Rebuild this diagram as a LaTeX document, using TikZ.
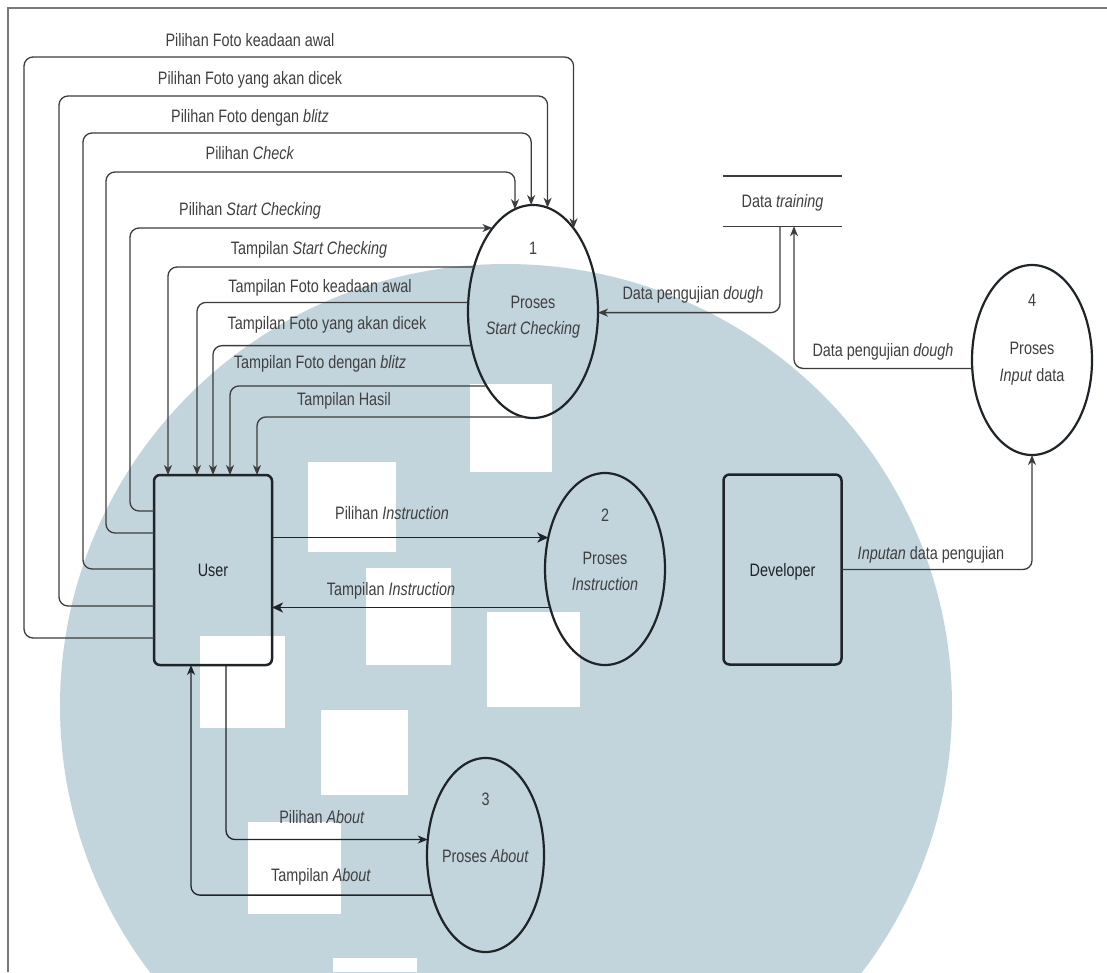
\documentclass[tikz,border=0pt]{standalone}
\usepackage{fontspec}
\setmainfont{Liberation Sans}[FakeStretch=0.8]
\usetikzlibrary{arrows.meta,shapes.geometric}

\definecolor{wmark}{RGB}{194,212,220}
\definecolor{ink}{RGB}{30,36,40}
\definecolor{wire}{RGB}{60,60,60}
\definecolor{txt}{RGB}{64,64,64}
\definecolor{frame}{RGB}{120,120,120}

\begin{document}
\begin{tikzpicture}[x=1pt,y=-1pt,
  every node/.style={font=\fontsize{18}{20}\selectfont, text=txt},
  lbl/.style={anchor=base, inner sep=0pt},
  proc/.style={ellipse, draw=ink, line width=2.2pt, inner sep=0pt, outer sep=0pt},
  entity/.style={rectangle, rounded corners=6pt, draw=ink, line width=2.5pt,
    minimum width=118pt, minimum height=190pt, outer sep=0pt, text=ink,
    text height=13pt, text depth=0pt},
  flow/.style={draw=wire, line width=1.3pt, rounded corners=9pt,
    -{Stealth[length=10pt,width=8pt,inset=3pt]}},
  flowb/.style={flow, draw=ink, line width=1.8pt,
    -{Stealth[length=11pt,width=10pt,inset=3pt]}},
  storeline/.style={draw=wire, line width=1.4pt},
]
\useasboundingbox (0,0) rectangle (1107,972);
\fill[white] (0,0) rectangle (1107,972);

% background emblem
\begin{scope}
  \clip (0,0) rectangle (1107,972);
  \fill[wmark] (506,706) ellipse [x radius=446pt, y radius=442pt];
  \fill[white] (308,462) rectangle (396,552);
  \fill[white] (470,384) rectangle (552,472);
  \fill[white] (366,568) rectangle (451,665);
  \fill[white] (487,612) rectangle (580,707);
  \fill[white] (200,636) rectangle (285,728);
  \fill[white] (321,710) rectangle (408,795);
  \fill[white] (248,822) rectangle (341,914);
  \fill[white] (333,958) rectangle (417,972);
\end{scope}

% page frame
\draw[frame, line width=1.2pt] (8,972) -- (8,8) -- (1107,8);

% external entities
\node[entity] (user) at (213,570) {User};
\node[entity] (dev) at (782.5,569.5) {Developer};

% processes
\node[proc, minimum width=130pt, minimum height=213pt] (c1) at (533,311.5) {};
\node[lbl] (c1n) at (533,254) {1};
\node[lbl] (c1a) at (533,308) {Proses};
\node[lbl] (c1b) at (533,334) {\itshape Start Checking};

\node[proc, minimum width=120pt, minimum height=192pt] (c2) at (605,569) {};
\node[lbl] (c2n) at (605,521) {2};
\node[lbl] (c2a) at (605,564) {Proses};
\node[lbl] (c2b) at (605,590) {\itshape Instruction};

\node[proc, minimum width=117pt, minimum height=194pt] (c3) at (485.5,855) {};
\node[lbl] (c3n) at (485.5,805) {3};
\node[lbl] (c3a) at (485.5,862) {Proses \textit{About}};

\node[proc, minimum width=120pt, minimum height=190pt] (c4) at (1032,360) {};
\node[lbl] (c4n) at (1032,306) {4};
\node[lbl] (c4a) at (1032,354) {Proses};
\node[lbl] (c4b) at (1032,381) {\textit{Input} data};

% data store
\node[minimum width=119pt, minimum height=50pt, inner sep=0pt,
  text height=12pt, text depth=0pt] (store) at (782.5,201) {Data \textit{training}};
\draw[storeline] (store.north west) -- (store.north east)
                 (store.south west) -- (store.south east);

% choices sent from the user to process 1
\draw[flow] (user.west |- 0,638) -| (24,57) -| (c1.64);
\draw[flow] (user.west |- 0,606) -| (59,96) -| (c1.82);
\draw[flow] (user.west |- 0,569) -| (83,133) -| (c1.91);
\draw[flow] (user.west |- 0,533) -| (106,172) -| (c1.100);
\draw[flow] (user.west |- 0,511) -| (130,228) -- (c1.116 |- 130,228);

% views returned by process 1
\draw[flow] (c1.143) -| (user.north -| 168,0);
\draw[flow] (c1.172) -| (user.north -| 197,0);
\draw[flow] (c1.209) -| (user.north -| 213,0);
\draw[flow] (c1.238) -| (user.north -| 230,0);
\draw[flow] (c1.265) -| (user.north -| 257,0);

% instruction
\draw[flowb] (user.east |- c2.151) -- (c2.151);
\draw[flowb] (c2.215) -- (user.east |- c2.215);

% about
\draw[flow, draw=ink] (user.south -| 226,0) |- (c3.165);
\draw[flow, draw=ink] (c3.217) -| (user.south -| 191,0);

% training data
\draw[flow] (store.south -| 780,0) |- (c1.359);
\draw[flow] (c4.188) -| (store.south -| 794,0);
\draw[flow] (dev.east) -| (c4.south);

% flow labels
\node[lbl] (l1) at (250,46) {Pilihan Foto keadaan awal};
\node[lbl] (l2) at (250,84) {Pilihan Foto yang akan dicek};
\node[lbl] (l3) at (250,122) {Pilihan Foto dengan \textit{blitz}};
\node[lbl] (l4) at (250,159) {Pilihan \textit{Check}};
\node[lbl] (l5) at (250,215) {Pilihan \textit{Start Checking}};
\node[lbl] (l6) at (309,254) {Tampilan \textit{Start Checking}};
\node[lbl] (l7) at (320,292) {Tampilan Foto keadaan awal};
\node[lbl] (l8) at (327,329) {Tampilan Foto yang akan dicek};
\node[lbl] (l9) at (320,368) {Tampilan Foto dengan \textit{blitz}};
\node[lbl] (l10) at (344,405) {Tampilan Hasil};
\node[lbl] (l11) at (392,519) {Pilihan \textit{Instruction}};
\node[lbl] (l12) at (391,595) {Tampilan \textit{Instruction}};
\node[lbl] (l13) at (322,823) {Pilihan \textit{About}};
\node[lbl] (l14) at (321,881) {Tampilan \textit{About}};
\node[lbl] (l15) at (693,299) {Data pengujian \textit{dough}};
\node[lbl] (l16) at (883,356) {Data pengujian \textit{dough}};
\node[lbl] (l17) at (931,559) {\textit{Inputan} data pengujian};
\end{tikzpicture}
\end{document}
